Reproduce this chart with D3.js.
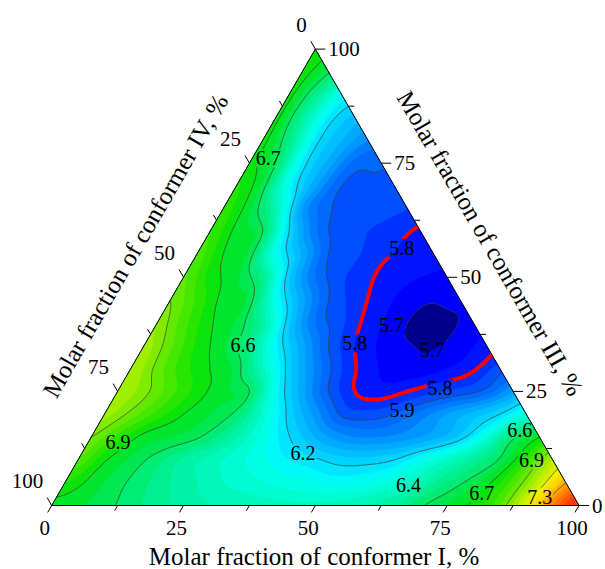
<!DOCTYPE html>
<html><head><meta charset="utf-8">
<script src="https://cdn.jsdelivr.net/npm/d3@7"></script>
<style>
body{margin:0;background:#fff}
text{font-family:"Liberation Serif","Times New Roman",serif;fill:#000}
</style></head>
<body><svg id="chart" width="605" height="569"></svg>
<script>
// ---------------- DATA ----------------
const tickValues = [0, 25, 50, 75, 100];
const minorTickValues = [12.5, 37.5, 62.5, 87.5];
const gridStepPct = 5;
// Energy values read on a 5 % ternary grid.
// Row k : conformer III = 5k %, entries for conformer I = 0,5,...,100-5k %
const zRows = [
  [6.68, 6.66, 6.62, 6.57, 6.52, 6.48, 6.45, 6.43, 6.42, 6.41, 6.41, 6.42, 6.45, 6.50, 6.59, 6.65, 6.72, 6.85, 7.10, 7.40, 7.60],
  [6.75, 6.68, 6.62, 6.56, 6.50, 6.45, 6.40, 6.37, 6.335, 6.31, 6.285, 6.29, 6.33, 6.40, 6.50, 6.59, 6.68, 6.83, 7.04, 7.30],
  [6.84, 6.71, 6.64, 6.57, 6.49, 6.43, 6.37, 6.31, 6.25, 6.21, 6.17, 6.17, 6.20, 6.30, 6.40, 6.50, 6.61, 6.78, 7.00],
  [6.90, 6.78, 6.68, 6.65, 6.61, 6.52, 6.39, 6.26, 6.15, 6.05, 6.00, 6.00, 6.03, 6.08, 6.17, 6.35, 6.58, 6.70],
  [6.97, 6.88, 6.78, 6.70, 6.65, 6.58, 6.38, 6.18, 6.03, 5.89, 5.87, 5.90, 5.97, 6.05, 6.12, 6.20, 6.35],
  [7.00, 6.92, 6.82, 6.73, 6.66, 6.60, 6.28, 6.07, 5.90, 5.80, 5.77, 5.80, 5.84, 5.87, 5.92, 6.05],
  [7.00, 6.88, 6.77, 6.70, 6.63, 6.41, 6.17, 5.99, 5.85, 5.77, 5.73, 5.72, 5.75, 5.79, 5.88],
  [6.98, 6.86, 6.74, 6.66, 6.53, 6.26, 6.07, 5.90, 5.80, 5.74, 5.705, 5.695, 5.73, 5.77],
  [6.94, 6.82, 6.71, 6.64, 6.48, 6.16, 5.95, 5.86, 5.78, 5.73, 5.675, 5.675, 5.74],
  [6.90, 6.79, 6.68, 6.63, 6.30, 6.07, 5.90, 5.83, 5.77, 5.73, 5.705, 5.73],
  [6.86, 6.73, 6.66, 6.52, 6.16, 5.95, 5.86, 5.81, 5.77, 5.75, 5.74],
  [6.83, 6.70, 6.63, 6.30, 6.09, 5.90, 5.86, 5.81, 5.79, 5.77],
  [6.80, 6.68, 6.60, 6.20, 5.96, 5.87, 5.85, 5.82, 5.79],
  [6.78, 6.66, 6.44, 6.05, 5.91, 5.88, 5.87, 5.85],
  [6.76, 6.63, 6.28, 6.06, 5.90, 5.89, 5.89],
  [6.72, 6.60, 6.24, 6.08, 5.93, 5.91],
  [6.72, 6.54, 6.23, 6.10, 6.00],
  [6.72, 6.50, 6.24, 6.13],
  [6.72, 6.53, 6.30],
  [6.73, 6.61],
  [6.74]
];
const fillLevels = d3.range(5.70, 7.6001, 0.05).map(v => +v.toFixed(2));
const lineLevels = [5.7, 5.9, 6.2, 6.6, 6.7, 6.9, 7.1, 7.3];
const highlightLevel = 5.8;
const contourLabelText = ["6.7", "6.6", "6.9", "6.2", "5.9", "5.8", "5.8", "5.8", "5.7", "5.7", "6.6", "6.9", "6.7", "7.3", "6.4"];
const contourLabelI =    [3.0, 18.7, 5.6, 41.9, 56.0, 38.2, 39.7, 60.8, 44.7, 55.1, 80.5, 86.0, 80.2, 91.6, 65.4];
const contourLabelIII =  [76.1, 35.2, 13.9, 11.5, 20.9, 56.4, 35.5, 25.7, 39.5, 34.1, 16.5, 10.0, 2.7, 1.9, 4.5];

// ---------------- GEOMETRY ----------------
const X0 = 51.7, YB = 505.5, W = 527.3, H = 456.4;
const frac = d3.scaleLinear().domain([0, 100]).range([0, 1]);
const toXY = (a, c) => [X0 + W * (a + c / 2), YB - H * c]; // a = I, c = III fractions

const svg = d3.select("#chart");
const defs = svg.append("defs");
const tri = [toXY(0, 0), toXY(1, 0), toXY(0, 1)];
const triD = "M" + tri.map(p => p.join(",")).join("L") + "Z";
defs.append("clipPath").attr("id", "triClip").append("path").attr("d", triD);

// ---------------- FIELD ----------------
const nG = 100 / gridStepPct;
const clampI = (v, lo, hi) => Math.max(lo, Math.min(hi, v));
const G = [];
for (let k = 0; k <= nG; k++) {
  G.push([]);
  for (let m = 0; m <= nG; m++) {
    if (m <= nG - k) G[k].push(zRows[k][m]);
    else G[k].push((zRows[k][nG - k] + zRows[nG - m][m]) / 2);
  }
}
function cr(p, t) {
  return 0.5 * (2 * p[1] + (-p[0] + p[2]) * t + (2 * p[0] - 5 * p[1] + 4 * p[2] - p[3]) * t * t + (-p[0] + 3 * p[1] - 3 * p[2] + p[3]) * t * t * t);
}
function field(a, c) {
  const u = clampI(a, 0, 1) * nG, v = clampI(c, 0, 1) * nG;
  const i = Math.min(nG - 1, Math.floor(u)), j = Math.min(nG - 1, Math.floor(v));
  const tu = u - i, tv = v - j;
  const col = [];
  for (let dj = -1; dj <= 2; dj++) {
    const jj = clampI(j + dj, 0, nG);
    col.push(cr([-1, 0, 1, 2].map(di => G[jj][clampI(i + di, 0, nG)]), tu));
  }
  return cr(col, tv);
}
const N = 281, pad = 0.02, span = 1 + 2 * pad;
const vals = new Float64Array(N * N);
for (let j = 0; j < N; j++) {
  const c = -pad + span * j / (N - 1);
  for (let i = 0; i < N; i++) {
    const a = -pad + span * i / (N - 1);
    vals[i + j * N] = field(a, c);
  }
}
const proj = d3.geoTransform({
  point(x, y) {
    const a = -pad + span * (x - 0.5) / (N - 1);
    const c = -pad + span * (y - 0.5) / (N - 1);
    const p = toXY(a, c);
    this.stream.point(p[0], p[1]);
  }
});
const path = d3.geoPath(proj);

// ---------------- COLORS ----------------
const stopV = [5.70, 5.75, 5.80, 5.85, 5.90, 5.95, 6.00, 6.05, 6.10, 6.15, 6.20, 6.25, 6.30, 6.35, 6.40, 6.45, 6.50, 6.55, 6.60, 6.65, 6.70, 6.75, 6.80, 6.85, 6.90, 6.95, 7.00, 7.10, 7.20, 7.30, 7.40, 7.50];
const stopC = ["#0000ff", "#0014ff", "#0032ff", "#0050ff", "#0069ff", "#007dff", "#0096ff", "#00aaff", "#00beff", "#00d2ff",
  "#00e6ff", "#00faf8", "#00ffe4", "#00fcd0", "#00f8bc", "#00f4a8", "#00f090", "#00ec72", "#00e850", "#00e62d",
  "#0ae40a", "#28e600", "#46e800", "#64ea00", "#82ec00", "#a0ee00", "#bef000", "#f0f000", "#ffd200", "#ffa000", "#ff6e00", "#ff3c00"];
const color = d3.scaleLinear().domain(stopV).range(stopC).clamp(true);
const belowColor = "#00008c";

// ---------------- FILL ----------------
const plot = svg.append("g").attr("clip-path", "url(#triClip)");
plot.append("path").attr("d", triD).attr("fill", belowColor);
const fills = d3.contours().size([N, N]).thresholds(fillLevels)(vals);
plot.selectAll("path.band").data(fills).join("path").attr("class", "band")
  .attr("d", path).attr("fill", d => color(d.value)).attr("stroke", d => color(d.value)).attr("stroke-width", 0.4);

// ---------------- LABEL MASK ----------------
const labelG = svg.append("g");
const labels = labelG.selectAll("text").data(contourLabelText).join("text")
  .attr("x", (d, i) => toXY(frac(contourLabelI[i]), frac(contourLabelIII[i]))[0])
  .attr("y", (d, i) => toXY(frac(contourLabelI[i]), frac(contourLabelIII[i]))[1])
  .attr("text-anchor", "middle").attr("dominant-baseline", "central")
  .attr("font-size", 20).text(d => d);
const mask = defs.append("mask").attr("id", "lblMask").attr("maskUnits", "userSpaceOnUse")
  .attr("x", 0).attr("y", 0).attr("width", 605).attr("height", 569);
mask.append("rect").attr("width", 605).attr("height", 569).attr("fill", "#fff");
labels.each(function () {
  const b = this.getBBox();
  mask.append("rect").attr("x", b.x - 1).attr("y", b.y + 2).attr("width", b.width + 2).attr("height", b.height - 4).attr("fill", "#000");
});

// ---------------- LINES ----------------
const lineG = plot.append("g").attr("mask", "url(#lblMask)");
const lines = d3.contours().size([N, N]).thresholds(lineLevels)(vals);
lineG.selectAll("path.iso").data(lines).join("path").attr("class", "iso")
  .attr("d", path).attr("fill", "none").attr("stroke", "#3a3a3a").attr("stroke-width", 0.7);
const hl = d3.contours().size([N, N]).thresholds([highlightLevel])(vals);
lineG.selectAll("path.hl").data(hl).join("path").attr("class", "hl")
  .attr("d", path).attr("fill", "none").attr("stroke", "#ff0000").attr("stroke-width", 4);
labelG.raise();

// ---------------- FRAME & AXES ----------------
svg.append("path").attr("d", triD).attr("fill", "none").attr("stroke", "#000").attr("stroke-width", 1);

const axG = svg.append("g").attr("stroke", "#000").attr("stroke-width", 1);
const allTicks = tickValues.concat(minorTickValues);
// bottom axis: conformer I
const sI = d3.scaleLinear().domain([0, 100]).range([X0, X0 + W]);
allTicks.forEach(v => {
  const x = sI(v), len = minorTickValues.includes(v) ? 6 : 8;
  axG.append("line").attr("x1", x).attr("y1", YB).attr("x2", x - 0.5 * len).attr("y2", YB + 0.866 * len);
});
svg.append("g").selectAll("text").data(tickValues).join("text")
  .attr("x", d => sI(d) - 7).attr("y", YB + 29.5).attr("text-anchor", "middle")
  .attr("font-size", 21).text(d => d);
// right axis: conformer III
const sIII = d3.scaleLinear().domain([0, 100]).range([0, 1]);
allTicks.forEach(v => {
  const p = toXY(1 - sIII(v), sIII(v)), len = minorTickValues.includes(v) ? 6 : 10;
  axG.append("line").attr("x1", p[0]).attr("y1", p[1]).attr("x2", p[0] + len).attr("y2", p[1]);
});
svg.append("g").selectAll("text").data(tickValues).join("text")
  .attr("x", d => toXY(1 - sIII(d), sIII(d))[0] + 13).attr("y", d => toXY(1 - sIII(d), sIII(d))[1] + 7)
  .attr("font-size", 21).text(d => d);
// left axis: conformer IV (0 at top, 100 at bottom-left)
const sIV = d3.scaleLinear().domain([0, 100]).range([0, 1]);
allTicks.forEach(v => {
  const p = toXY(0, 1 - sIV(v)), len = minorTickValues.includes(v) ? 6 : 9;
  axG.append("line").attr("x1", p[0]).attr("y1", p[1]).attr("x2", p[0] - 0.5 * len).attr("y2", p[1] - 0.866 * len);
});
svg.append("g").selectAll("text").data(tickValues).join("text")
  .attr("x", d => toXY(0, 1 - sIV(d))[0] - 8.5).attr("y", d => toXY(0, 1 - sIV(d))[1] - 17.5)
  .attr("text-anchor", "end").attr("font-size", 21).text(d => d);

// titles
svg.append("text").attr("x", 314).attr("y", 565).attr("text-anchor", "middle")
  .attr("font-size", 25).text("Molar fraction of conformer I, %");
svg.append("text").attr("transform", "translate(142.8,249.9) rotate(-60)").attr("text-anchor", "middle")
  .attr("font-size", 25).text("Molar fraction of conformer IV, %");
svg.append("text").attr("transform", "translate(482.8,247.6) rotate(60)").attr("text-anchor", "middle")
  .attr("font-size", 25).text("Molar fraction of conformer III, %");
</script></body></html>
